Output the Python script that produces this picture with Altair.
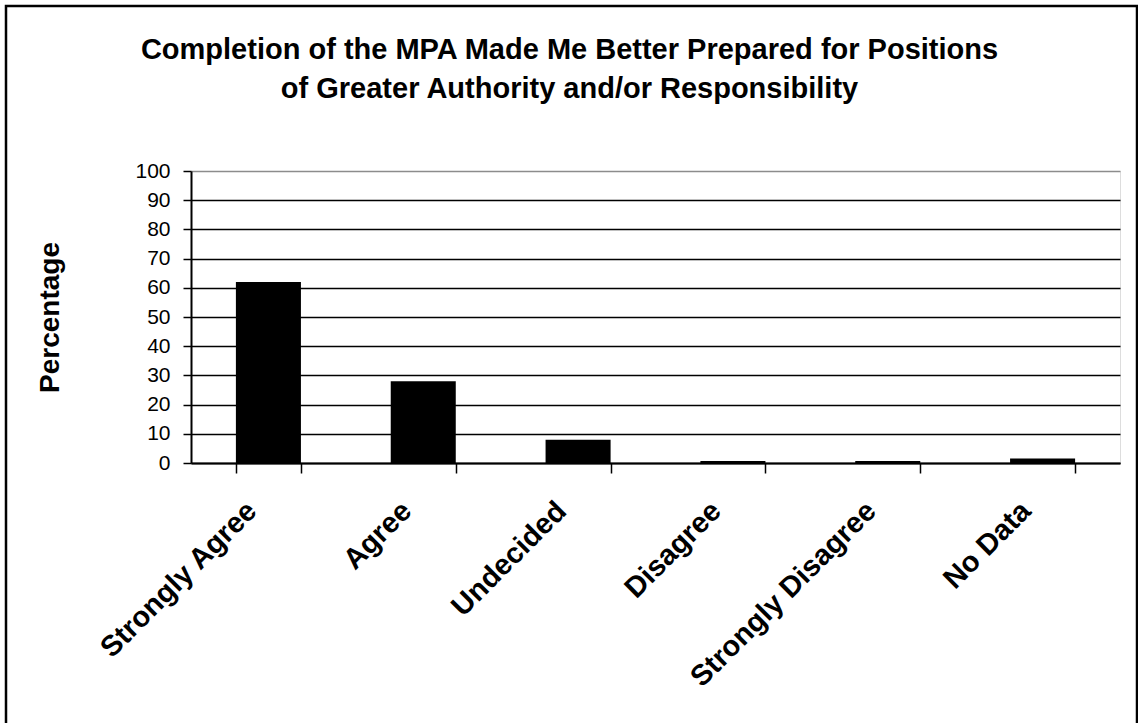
import altair as alt
import pandas as pd

# Survey responses (percent of respondents)
categories = ["Strongly Agree", "Agree", "Undecided", "Disagree",
              "Strongly Disagree", "No Data"]
percentages = [62, 28, 8, 0.7, 0.7, 1.5]
y_ticks = list(range(0, 101, 10))

title_lines = ["Completion of the MPA Made Me Better Prepared for Positions",
               "of Greater Authority and/or Responsibility"]

df = pd.DataFrame({"Response": categories, "Percentage": percentages})

FONT = "Liberation Sans"

bars = alt.Chart(df).mark_bar(color="black").encode(
    x=alt.X(
        "Response:N",
        sort=categories,
        scale=alt.Scale(paddingInner=0.58, paddingOuter=0.29),
        axis=alt.Axis(
            title=None,
            labelAngle=-45,
            labelAlign="right",
            labelBaseline="middle",
            labelFont=FONT,
            labelFontSize=29,
            labelFontWeight="bold",
            labelColor="black",
            labelLimit=1000,
            labelPadding=33,
            labelOffset=-17,
            tickBand="extent",
            tickSize=10,
            tickColor="black",
            tickWidth=1.5,
            domainColor="black",
            domainWidth=2,
            grid=False,
        ),
    ),
    y=alt.Y(
        "Percentage:Q",
        scale=alt.Scale(domain=[0, 100], nice=False),
        axis=alt.Axis(
            title="Percentage",
            titleFont=FONT,
            titleFontSize=28,
            titleFontWeight="bold",
            titleColor="black",
            titlePadding=70,
            values=y_ticks,
            labelFont=FONT,
            labelFontSize=21,
            labelColor="black",
            labelPadding=13,
            tickSize=8,
            tickColor="black",
            tickWidth=1.5,
            domainColor="black",
            domainWidth=2,
            grid=True,
            gridColor={"condition": {"test": "datum.value === 100", "value": "#8c8c8c"},
                       "value": "black"},
            gridWidth=1.5,
            gridOpacity=1,
        ),
    ),
)

# Frame around the whole figure
frame = alt.Chart(pd.DataFrame({"k": [0]})).mark_rect(
    fill=None, stroke="black", strokeWidth=2.5, clip=False
).encode(
    x=alt.value(-185), x2=alt.value(946),
    y=alt.value(-165), y2=alt.value(570),
)

chart = alt.layer(bars, frame).properties(
    width=929,
    height=292,
    title=alt.TitleParams(
        text=title_lines,
        font=FONT,
        fontSize=29,
        fontWeight="bold",
        color="black",
        lineHeight=39,
        anchor="middle",
        frame="group",
        baseline="alphabetic",
        dx=-86,
        offset=-122,
    ),
    autosize=alt.AutoSizeParams(type="none"),
    padding={"left": 191, "top": 171, "right": 18, "bottom": 260},
).configure_view(
    stroke="#8c8c8c", strokeWidth=1.5
).configure(
    background="white"
)

chart.save("out.html", embed_options={"renderer": "svg", "actions": False})
